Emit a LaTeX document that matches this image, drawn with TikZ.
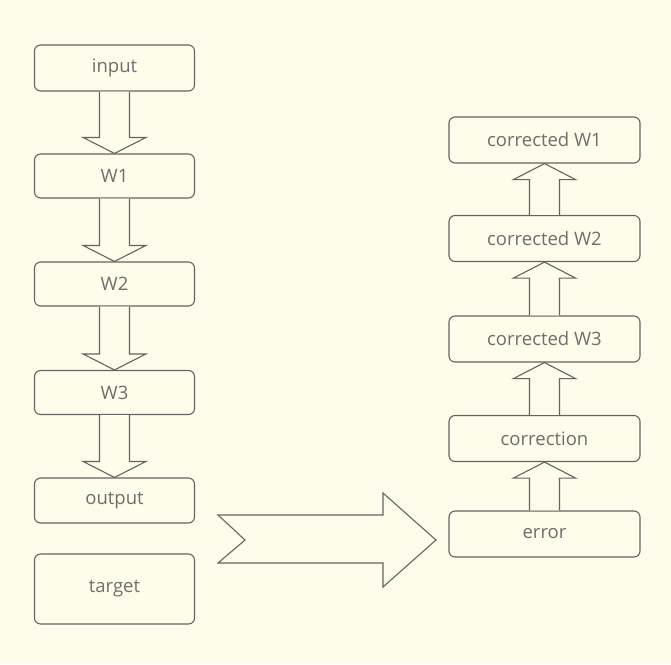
\documentclass[tikz,border=0pt]{standalone}
\usepackage{fontspec}
\setmainfont{Open Sans}
\usetikzlibrary{calc}
\definecolor{bg}{RGB}{254,252,234}
\definecolor{ln}{RGB}{100,100,100}
\definecolor{tx}{RGB}{110,110,110}
\tikzset{
  box/.style={draw=ln, line width=1.1pt, rounded corners=6pt, fill=bg,
    text=tx, font=\fontsize{18.5}{20}\selectfont, inner sep=0pt},
  lbox/.style={box, minimum width=160pt},
  rbox/.style={box, minimum width=191pt, minimum height=46pt},
  fat/.style={draw=ln, line width=1.1pt, fill=bg, line join=miter},
}
\newcommand\fatdown[2]{%
  \draw[fat] ($(#1.south)+(-15,0)$) -- ($(#2.north)+(-15,-16)$) -- ($(#2.north)+(-31.5,-16)$)
    -- (#2.north) -- ($(#2.north)+(31.5,-16)$) -- ($(#2.north)+(15,-16)$) -- ($(#1.south)+(15,0)$);}
\newcommand\fatup[2]{%
  \draw[fat] ($(#1.north)+(-15,0)$) -- ($(#2.south)+(-15,16)$) -- ($(#2.south)+(-31,16)$)
    -- (#2.south) -- ($(#2.south)+(31,16)$) -- ($(#2.south)+(15,16)$) -- ($(#1.north)+(15,0)$);}
\begin{document}
\begin{tikzpicture}[x=1pt,y=-1pt]
\fill[bg] (0,0) rectangle (671,664);
\useasboundingbox (0,0) rectangle (671,664);
% left column
\node[lbox, minimum height=46pt] (in) at (114.5,68) {input};
\node[lbox, minimum height=44pt] (w1) at (114.5,176) {W1};
\node[lbox, minimum height=44pt] (w2) at (114.5,284) {W2};
\node[lbox, minimum height=44pt] (w3) at (114.5,392.5) {W3};
\node[lbox, minimum height=45pt] (out) at (114.5,500.5) {output};
\node[lbox, minimum height=70pt] (tg) at (114.5,589) {target};
% right column
\node[rbox] (c1) at (544.5,140) {corrected W1};
\node[rbox] (c2) at (544.5,238.5) {corrected W2};
\node[rbox] (c3) at (544.5,339) {corrected W3};
\node[rbox] (cr) at (544.5,438.5) {correction};
\node[rbox] (er) at (544.5,534) {error};
% arrows
\fatdown{in}{w1}
\fatdown{w1}{w2}
\fatdown{w2}{w3}
\fatdown{w3}{out}
\fatup{er}{cr}
\fatup{cr}{c3}
\fatup{c3}{c2}
\fatup{c2}{c1}
% big arrow
\coordinate (bt) at (218,515);
\coordinate (bn) at (245,540);
\coordinate (tip) at (436,540);
\draw[fat] (bt) -- (383,515) -- (383,493) -- (tip) -- (383,587) -- (383,563) -- (218,563) -- (bn) -- cycle;
\end{tikzpicture}
\end{document}
